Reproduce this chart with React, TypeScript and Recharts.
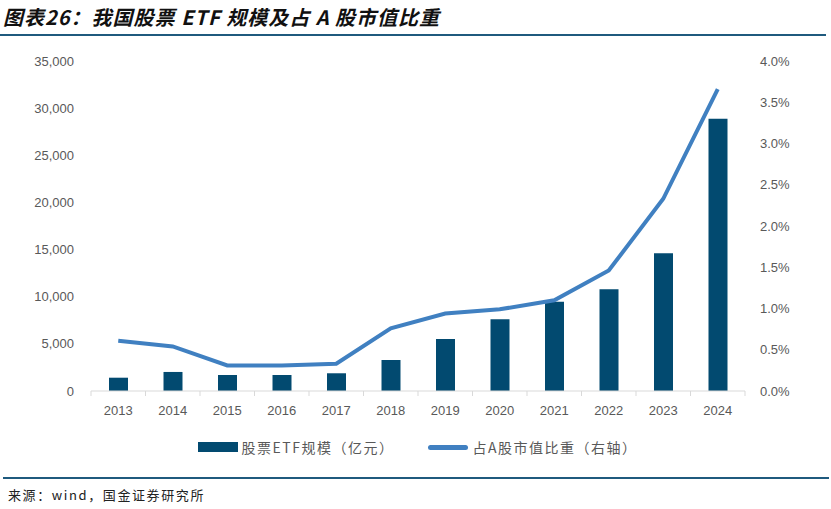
import React from "react";
import { ComposedChart, Bar, Line, XAxis, YAxis, Legend } from "recharts";

const years = ["2013", "2014", "2015", "2016", "2017", "2018", "2019", "2020", "2021", "2022", "2023", "2024"];
// 股票ETF规模（亿元）
const etfScale = [1410, 2020, 1700, 1700, 1880, 3290, 5510, 7600, 9470, 10780, 14600, 28880];
// 占A股市值比重（%）
const marketShare = [0.61, 0.54, 0.31, 0.31, 0.33, 0.76, 0.94, 0.99, 1.1, 1.46, 2.33, 3.66];
const leftTicks = [0, 5000, 10000, 15000, 20000, 25000, 30000, 35000];
const rightTicks = [0, 0.5, 1, 1.5, 2, 2.5, 3, 3.5, 4];

const BAR_COLOR = "#024a70";
const LINE_COLOR = "#4080c1";
const RULE_COLOR = "#1f5a7e";
const TEXT_COLOR = "#595959";
const AXIS_FONT = "'Liberation Sans', Arial, sans-serif";
const CJK_FONT = "'Noto Sans CJK SC', 'Liberation Sans', sans-serif";

const data = years.map((year, i) => ({ year, etf: etfScale[i], share: marketShare[i] }));

function YearTick(props: any) {
  const { x, y, payload, index, visibleTicksCount } = props;
  const half = payload?.offset || 27.25;
  const isLast = index === visibleTicksCount - 1;
  return (
    <g>
      <line x1={x - half} x2={x - half} y1={y} y2={y + 5} stroke="#d9d9d9" />
      {isLast && <line x1={x + half} x2={x + half} y1={y} y2={y + 5} stroke="#d9d9d9" />}
      <text x={x} y={y + 24} textAnchor="middle" fill={TEXT_COLOR} fontSize={13} fontFamily={AXIS_FONT}>
        {payload.value}
      </text>
    </g>
  );
}

function LegendContent(props: any) {
  // bars first, then the line, as in the original
  const items = [...(props.payload || [])].sort(
    (a: any, b: any) => (a.type === "line" ? 1 : 0) - (b.type === "line" ? 1 : 0)
  );
  return (
    <div
      style={{
        display: "flex",
        justifyContent: "center",
        alignItems: "center",
        gap: 34,
        fontFamily: CJK_FONT,
        fontSize: 14,
        letterSpacing: 1.5,
        color: TEXT_COLOR,
        paddingLeft: 4,
      }}
    >
      {items.map((item: any) => (
        <span key={item.value} style={{ display: "flex", alignItems: "center" }}>
          <span
            style={{
              display: "inline-block",
              width: 40,
              height: item.type === "line" ? 5 : 10,
              borderRadius: item.type === "line" ? 3 : 0,
              background: item.color,
              marginRight: 4,
            }}
          />
          {item.value}
        </span>
      ))}
    </div>
  );
}

export default function App() {
  return (
    <div
      style={{
        position: "absolute",
        left: 0,
        top: 0,
        width: 831,
        height: 509,
        background: "#fff",
        overflow: "hidden",
      }}
    >
      <div
        style={{
          position: "absolute",
          left: 3,
          top: 4,
          fontFamily: CJK_FONT,
          fontSize: 20,
          fontWeight: 600,
          fontStyle: "italic",
          letterSpacing: 1,
          color: "#111",
          whiteSpace: "pre",
          lineHeight: "26px",
        }}
      >
        {"图表26：我国股票 ETF 规模及占 A 股市值比重"}
      </div>
      <div style={{ position: "absolute", left: 0, top: 34, width: 826, height: 2, background: RULE_COLOR }} />

      <ComposedChart
        width={831}
        height={509}
        data={data}
        margin={{ top: 61, right: 26, left: 31, bottom: 88 }}
      >
        <XAxis
          dataKey="year"
          height={30}
          tickSize={0}
          tickMargin={0}
          tickLine={false}
          axisLine={{ stroke: "#d9d9d9" }}
          tick={<YearTick />}
          interval={0}
        />
        <YAxis
          yAxisId="left"
          width={60}
          domain={[0, 35000]}
          ticks={leftTicks}
          tickSize={0}
          tickMargin={17}
          axisLine={false}
          tickLine={false}
          tick={{ fill: TEXT_COLOR, fontSize: 13, fontFamily: AXIS_FONT }}
          tickFormatter={(v: number) => v.toLocaleString("en-US")}
        />
        <YAxis
          yAxisId="right"
          orientation="right"
          width={60}
          domain={[0, 4]}
          ticks={rightTicks}
          tickSize={0}
          tickMargin={15}
          axisLine={false}
          tickLine={false}
          tick={{ fill: TEXT_COLOR, fontSize: 13, fontFamily: AXIS_FONT, textAnchor: "start" }}
          tickFormatter={(v: number) => `${v.toFixed(1)}%`}
        />
        <Legend
          verticalAlign="middle"
          align="center"
          content={<LegendContent />}
          wrapperStyle={{ top: 437, left: 0, width: 831 }}
        />
        <Bar
          yAxisId="left"
          dataKey="etf"
          name="股票ETF规模（亿元）"
          fill={BAR_COLOR}
          barSize={19}
          legendType="rect"
          isAnimationActive={false}
        />
        <Line
          yAxisId="right"
          dataKey="share"
          name="占A股市值比重（右轴）"
          type="linear"
          stroke={LINE_COLOR}
          strokeWidth={4}
          dot={false}
          activeDot={false}
          legendType="line"
          isAnimationActive={false}
        />
      </ComposedChart>

      <div style={{ position: "absolute", left: 3, top: 477, width: 826, height: 2, background: RULE_COLOR }} />
      <div
        style={{
          position: "absolute",
          left: 8,
          top: 486,
          fontFamily: CJK_FONT,
          fontSize: 13,
          letterSpacing: 1.6,
          color: "#222",
          whiteSpace: "pre",
          lineHeight: "18px",
        }}
      >
        {"来源：wind，国金证券研究所"}
      </div>
    </div>
  );
}
